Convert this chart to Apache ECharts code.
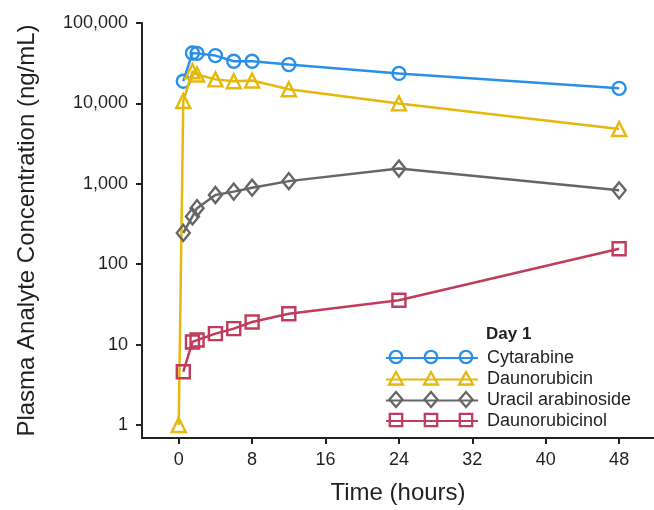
<!DOCTYPE html>
<html>
<head>
<meta charset="utf-8">
<script src="https://cdn.jsdelivr.net/npm/echarts@6/dist/echarts.min.js"></script>
<style>html,body{margin:0;padding:0;background:#fff;}#c{width:654px;height:510px;}</style>
</head>
<body>
<div id="c"></div>
<script>
// ---- data ----
const seriesNames = ['Cytarabine', 'Daunorubicin', 'Uracil arabinoside', 'Daunorubicinol'];
const timesMain = [0.5, 1.5, 2, 4, 6, 8, 12, 24, 48];
const timesDauno = [0, 0.5, 1.5, 2, 4, 6, 8, 12, 24, 48];
const cytarabine = [18900, 42400, 41900, 39300, 33400, 33400, 30400, 23600, 15400];
const daunorubicin = [1, 10700, 25100, 22900, 19900, 18900, 19300, 15000, 10000, 4810];
const uracilArabinoside = [245, 393, 498, 726, 800, 895, 1080, 1548, 829];
const daunorubicinol = [4.6, 10.8, 11.4, 13.7, 15.8, 19.1, 24.2, 35.6, 156];
const xTicks = [0, 8, 16, 24, 32, 40, 48];
const yTicks = [1, 10, 100, 1000, 10000, 100000];
const legendTitle = 'Day 1';
const xName = 'Time (hours)';
const yName = 'Plasma Analyte Concentration (ng/mL)';

const colors = ['#2a8fe6', '#e5b90b', '#666666', '#c03b5c'];
const symbols = ['circle', 'triangle', 'diamond', 'rect'];
const symbolSizes = [13, 14, [13, 16], 13];
const seriesData = [
  timesMain.map((t, i) => [t, cytarabine[i]]),
  timesDauno.map((t, i) => [t, daunorubicin[i]]),
  timesMain.map((t, i) => [t, uracilArabinoside[i]]),
  timesMain.map((t, i) => [t, daunorubicinol[i]])
];

const FONT = '"Liberation Sans", Arial, sans-serif';
const TXT = '#231f20';

const chart = echarts.init(document.getElementById('c'));

const legendLeft = 385, legendItemW = 92, legendItemH = 16;
const rowCenters = [357, 378.5, 399.5, 420];

const series = seriesNames.map((name, i) => ({
  name: name,
  type: 'line',
  data: seriesData[i],
  symbol: symbols[i],
  symbolSize: symbolSizes[i],
  showAllSymbol: true,
  lineStyle: { color: colors[i], width: 2.5 },
  itemStyle: { color: 'rgba(255,255,255,0)', borderColor: colors[i], borderWidth: 2.4 },
  emphasis: { disabled: true },
  animation: false,
  z: 2 + i
}));

const legends = seriesNames.map((name, i) => ({
  data: [name],
  left: legendLeft,
  top: rowCenters[i] - legendItemH / 2,
  padding: 0,
  itemWidth: legendItemW,
  itemHeight: legendItemH,
  selectedMode: false,
  itemStyle: { opacity: 0 },
  textStyle: { fontFamily: FONT, fontSize: 18, color: TXT, lineHeight: 16, padding: [0, 0, 0, 4] }
}));

// three markers on each legend line, as in the reference key
const graphics = [];
seriesNames.forEach((name, i) => {
  const cy = rowCenters[i];
  const mid = legendLeft + legendItemW / 2;
  [mid - 35, mid, mid + 35].forEach(cx => {
    const st = { fill: 'rgba(255,255,255,0)', stroke: colors[i], lineWidth: 2.3 };
    let g;
    if (i === 0) g = { type: 'circle', shape: { cx: cx, cy: cy, r: 6.2 }, style: st };
    else if (i === 1) g = { type: 'polygon', shape: { points: [[cx, cy - 6.5], [cx + 7, cy + 6], [cx - 7, cy + 6]] }, style: st };
    else if (i === 2) g = { type: 'polygon', shape: { points: [[cx, cy - 7.5], [cx + 6.5, cy], [cx, cy + 7.5], [cx - 6.5, cy]] }, style: st };
    else g = { type: 'rect', shape: { x: cx - 6.2, y: cy - 6.2, width: 12.4, height: 12.4 }, style: st };
    g.z = 100;
    graphics.push(g);
  });
});

chart.setOption({
  backgroundColor: '#fff',
  animation: false,
  title: { text: legendTitle, left: 486, top: 326, padding: 0,
    textStyle: { fontFamily: FONT, fontSize: 17, fontWeight: 'bold', color: TXT } },
  grid: { left: 142, right: 0, top: 23, bottom: 68, containLabel: false },
  legend: legends,
  graphic: graphics,
  xAxis: {
    type: 'value', min: -4, max: 51.8,
    name: xName, nameLocation: 'middle', nameGap: 43,
    nameTextStyle: { fontFamily: FONT, fontSize: 24, color: TXT },
    axisLine: { show: true, onZero: false, lineStyle: { color: '#222', width: 2 } },
    axisTick: { show: true, customValues: xTicks, length: 6, lineStyle: { color: '#222', width: 2 } },
    axisLabel: { customValues: xTicks, fontFamily: FONT, fontSize: 18, color: TXT, margin: 13 },
    splitLine: { show: false }
  },
  yAxis: {
    type: 'log', logBase: 10, min: 0.69, max: 100000,
    name: yName, nameLocation: 'middle', nameGap: 103, nameRotate: 90,
    nameTextStyle: { fontFamily: FONT, fontSize: 24, color: TXT },
    axisLine: { show: true, onZero: false, lineStyle: { color: '#222', width: 2 } },
    axisTick: { show: true, customValues: yTicks, length: 6, lineStyle: { color: '#222', width: 2 } },
    axisLabel: { customValues: yTicks, fontFamily: FONT, fontSize: 18, color: TXT, margin: 14,
      formatter: v => Math.round(v).toLocaleString('en-US') },
    splitLine: { show: false }
  },
  series: series
});
</script>
</body>
</html>
